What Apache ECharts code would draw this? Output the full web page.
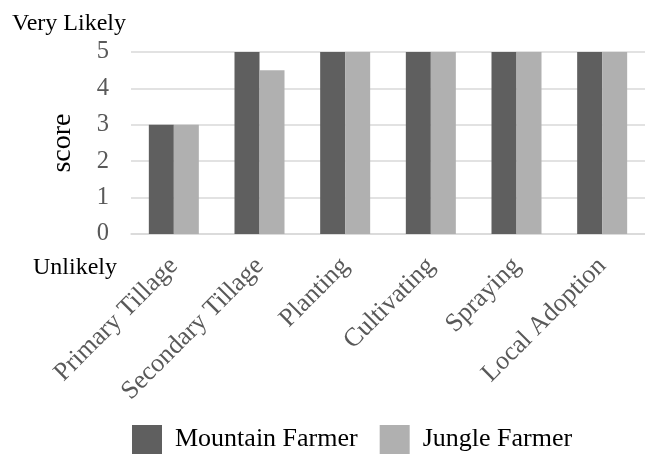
<!DOCTYPE html>
<html>
<head>
<meta charset="utf-8">
<script src="https://cdn.jsdelivr.net/npm/echarts@6/dist/echarts.min.js"></script>
<style>
  html, body { margin: 0; padding: 0; background: #fff; }
  #chart { width: 645px; height: 457px; }
</style>
</head>
<body>
<div id="chart"></div>
<script>
// Adoption likelihood score per operation, by farmer group
const categories = ['Primary Tillage', 'Secondary Tillage', 'Planting', 'Cultivating', 'Spraying', 'Local Adoption'];
const mountainFarmer = [3, 5, 5, 5, 5, 5];
const jungleFarmer = [3, 4.5, 5, 5, 5, 5];
const yTicks = [0, 1, 2, 3, 4, 5];

const serif = '"Liberation Serif", "Times New Roman", serif';
const chart = echarts.init(document.getElementById('chart'));

chart.setOption({
  animation: false,
  // plot area runs slightly past the right edge of the canvas
  grid: { left: 131, right: -6, top: 52, bottom: 223 },
  legend: {
    left: 132,
    top: 425,
    padding: 0,
    itemWidth: 30,
    itemHeight: 29,
    itemGap: 22,
    icon: 'rect',
    textStyle: { fontFamily: serif, fontSize: 26, color: '#000', padding: [0, 0, 0, 8] },
    data: ['Mountain Farmer', 'Jungle Farmer']
  },
  xAxis: {
    type: 'category',
    data: categories,
    axisLine: { show: true, lineStyle: { color: '#d9d9d9', width: 1.5 } },
    axisTick: { show: false },
    axisLabel: {
      rotate: 45,
      margin: 28,
      interval: 0,
      fontFamily: serif,
      fontSize: 26,
      color: '#595959'
    }
  },
  yAxis: {
    type: 'value',
    min: yTicks[0],
    max: yTicks[yTicks.length - 1],
    interval: 1,
    name: 'score',
    nameLocation: 'middle',
    nameGap: 54,
    nameRotate: 90,
    nameTextStyle: { fontFamily: serif, fontSize: 28, color: '#000' },
    axisLine: { show: false },
    axisTick: { show: false },
    splitLine: { lineStyle: { color: '#d9d9d9', width: 1.5 } },
    axisLabel: { fontFamily: serif, fontSize: 24.5, color: '#595959', margin: 22 }
  },
  series: [
    {
      name: 'Mountain Farmer',
      type: 'bar',
      data: mountainFarmer,
      barWidth: 25,
      barGap: '0%',
      itemStyle: { color: '#5f5f5f' }
    },
    {
      name: 'Jungle Farmer',
      type: 'bar',
      data: jungleFarmer,
      barWidth: 25,
      barGap: '0%',
      itemStyle: { color: '#b0b0b0' }
    }
  ],
  graphic: [
    {
      type: 'text',
      left: 12,
      top: 12,
      style: { text: 'Very Likely', font: '24px ' + serif, fill: '#000' }
    },
    {
      type: 'text',
      left: 33,
      top: 256,
      style: { text: 'Unlikely', font: '24px ' + serif, fill: '#000' }
    }
  ]
});
</script>
</body>
</html>
